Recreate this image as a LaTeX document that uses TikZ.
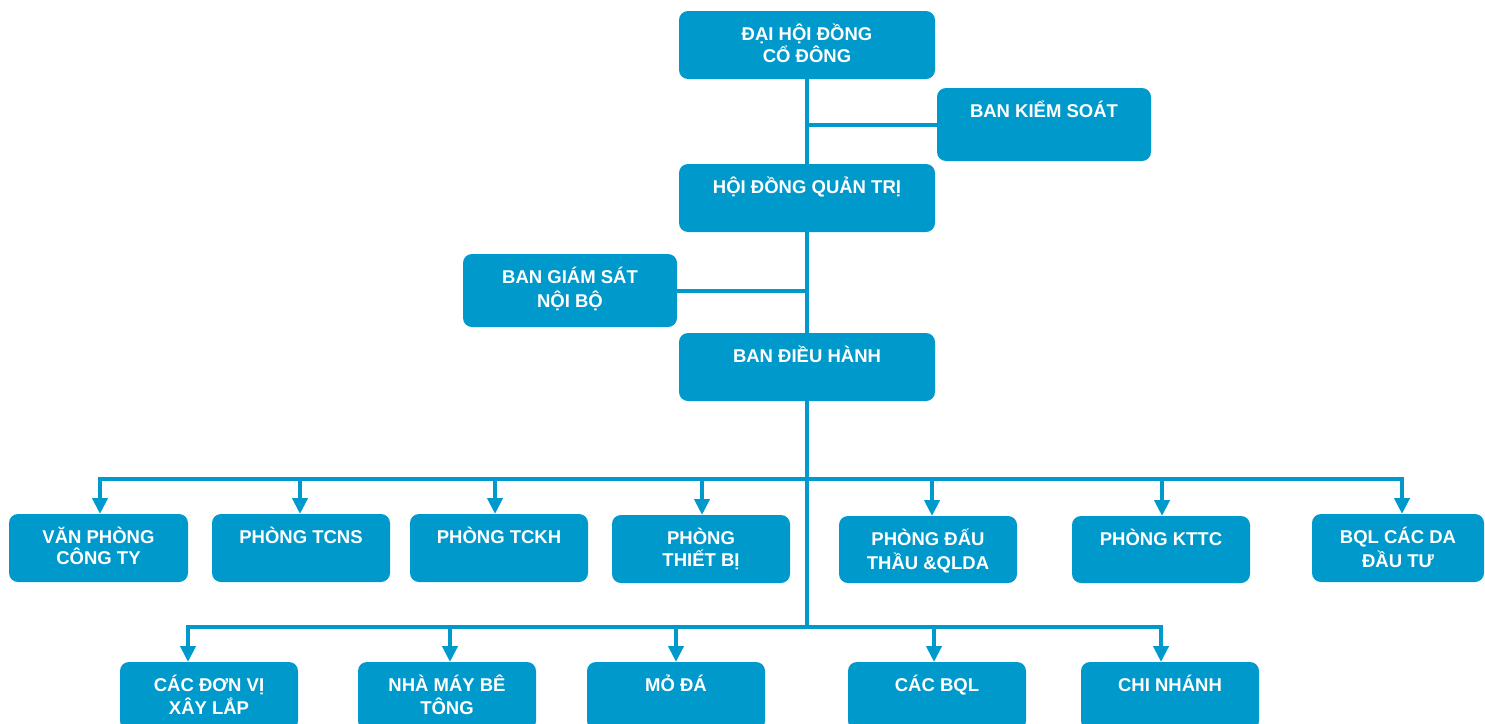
\documentclass[tikz,border=0pt]{standalone}
\usepackage{fontspec}
\setmainfont{Liberation Sans}
\usetikzlibrary{arrows.meta}
\definecolor{orgblue}{HTML}{0099CC}
\newcommand{\tb}[4]{\parbox[c][#2pt][t]{#1pt}{\centering\fontsize{18.5}{#3}\selectfont\lineskiplimit=-30pt\rule{0pt}{29.5pt}#4\par}}
\begin{document}
\begin{tikzpicture}[x=1pt,y=-1pt,
 unit/.style={fill=orgblue, rounded corners=9pt, inner sep=0pt, outer sep=0pt, text=white, font=\bfseries},
 link/.style={draw=orgblue, line width=4pt},
 arr/.style={link, -{Triangle[width=15pt,length=16pt]}}]
\clip (0,0) rectangle (1485,723);
% top chain
\node[unit] (dh) at (807,45) {\tb{256}{68}{22}{ĐẠI HỘI ĐỒNG\\CỔ ĐÔNG}};
\node[unit] (bks) at (1044,124.5) {\tb{214}{73}{22}{BAN KIỂM SOÁT}};
\node[unit] (hdqt) at (807,198) {\tb{256}{68}{22}{HỘI ĐỒNG QUẢN TRỊ}};
\node[unit] (bgs) at (570,290.5) {\tb{214}{73}{24}{BAN GIÁM SÁT\\NỘI BỘ}};
\node[unit] (bdh) at (807,367) {\tb{256}{68}{22}{BAN ĐIỀU HÀNH}};
% row 1
\node[unit] (b1) at (98.5,548) {\tb{179}{68}{21}{VĂN PHÒNG\\CÔNG TY}};
\node[unit] (b2) at (301,548) {\tb{178}{68}{21}{PHÒNG TCNS}};
\node[unit] (b3) at (499,548) {\tb{178}{68}{21}{PHÒNG TCKH}};
\node[unit] (b4) at (701,549) {\tb{178}{68}{22}{PHÒNG\\THIẾT BỊ}};
\node[unit] (b5) at (928,549.5) {\tb{178}{67}{24}{PHÒNG ĐẤU\\THẦU \&QLDA}};
\node[unit] (b6) at (1161,549.5) {\tb{178}{67}{22}{PHÒNG KTTC}};
\node[unit] (b7) at (1398,548) {\tb{172}{68}{24}{BQL CÁC DA\\ĐẦU TƯ}};
% row 2
\node[unit] (c1) at (209,696) {\tb{178}{68}{23}{CÁC ĐƠN VỊ\\XÂY LẮP}};
\node[unit] (c2) at (447,696) {\tb{178}{68}{23}{NHÀ MÁY BÊ\\TÔNG}};
\node[unit] (c3) at (676,696) {\tb{178}{68}{23}{MỎ ĐÁ}};
\node[unit] (c4) at (937,696) {\tb{178}{68}{23}{CÁC BQL}};
\node[unit] (c5) at (1170,696) {\tb{178}{68}{23}{CHI NHÁNH}};
% connectors
\coordinate (j1) at (807,479);
\coordinate (j2) at (807,627);
\draw[link] (dh.south) -- (hdqt.north);
\draw[link] (bks.west) -- (bks.west -| dh.south);
\draw[link] (hdqt.south) -- (bdh.north);
\draw[link] (bgs.east) -- (bgs.east -| hdqt.south);
\draw[link] (bdh.south) -- (j2);
\draw[arr] (j1) -| ([xshift=1.5pt]b1.north);
\draw[arr] (j1) -| ([xshift=-1pt]b2.north);
\draw[arr] (j1) -| ([xshift=-4pt]b3.north);
\draw[arr] (j1) -| ([xshift=1pt]b4.north);
\draw[arr] (j1) -| ([xshift=4pt]b5.north);
\draw[arr] (j1) -| ([xshift=1pt]b6.north);
\draw[arr] (j1) -| ([xshift=4pt]b7.north);
\draw[arr] (j2) -| ([xshift=-21pt]c1.north);
\draw[arr] (j2) -| ([xshift=3pt]c2.north);
\draw[arr] (j2) -| (c3.north);
\draw[arr] (j2) -| ([xshift=-3pt]c4.north);
\draw[arr] (j2) -| ([xshift=-9pt]c5.north);
\end{tikzpicture}
\end{document}
